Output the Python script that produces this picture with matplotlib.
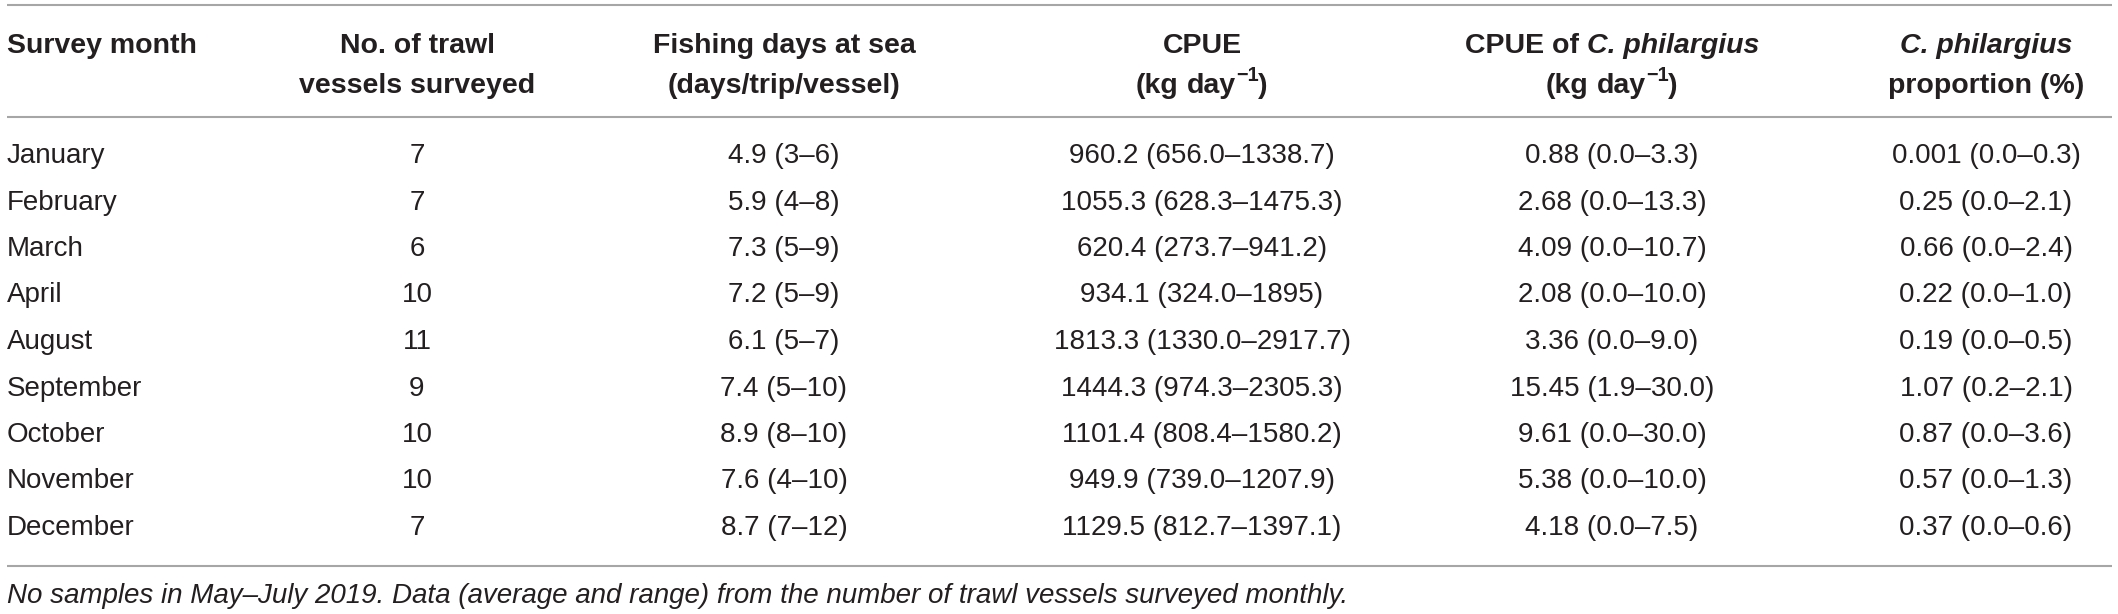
import matplotlib

matplotlib.use('Agg')
from matplotlib import pyplot as plt

# table content
months = ['January', 'February', 'March', 'April', 'August',
          'September', 'October', 'November', 'December']
n_vessels = [7, 7, 6, 10, 11, 9, 10, 10, 7]
days_mean = ['4.9', '5.9', '7.3', '7.2', '6.1', '7.4', '8.9', '7.6', '8.7']
days_lo = ['3', '4', '5', '5', '5', '5', '8', '4', '7']
days_hi = ['6', '8', '9', '9', '7', '10', '10', '10', '12']
cpue_mean = ['960.2', '1055.3', '620.4', '934.1', '1813.3', '1444.3', '1101.4', '949.9', '1129.5']
cpue_lo = ['656.0', '628.3', '273.7', '324.0', '1330.0', '974.3', '808.4', '739.0', '812.7']
cpue_hi = ['1338.7', '1475.3', '941.2', '1895', '2917.7', '2305.3', '1580.2', '1207.9', '1397.1']
cph_mean = ['0.88', '2.68', '4.09', '2.08', '3.36', '15.45', '9.61', '5.38', '4.18']
cph_lo = ['0.0', '0.0', '0.0', '0.0', '0.0', '1.9', '0.0', '0.0', '0.0']
cph_hi = ['3.3', '13.3', '10.7', '10.0', '9.0', '30.0', '30.0', '10.0', '7.5']
prop_mean = ['0.001', '0.25', '0.66', '0.22', '0.19', '1.07', '0.87', '0.57', '0.37']
prop_lo = ['0.0', '0.0', '0.0', '0.0', '0.0', '0.2', '0.0', '0.0', '0.0']
prop_hi = ['0.3', '2.1', '2.4', '1.0', '0.5', '2.1', '3.6', '1.3', '0.6']
footnote = ('No samples in May\u2013July 2019. Data (average and range) from the number '
            'of trawl vessels surveyed monthly.')

TXT = '#231f20'
RULE = '#a6a6a6'
FS = 20
FS_HEAD = 20.5
W, H = 2118, 614

plt.rcParams['font.family'] = ['Liberation Sans', 'DejaVu Sans']

fig = plt.figure(figsize=(W / 100, H / 100), dpi=100)
ax = fig.add_axes([0, 0, 1, 1])
ax.set_xlim(0, W)
ax.set_ylim(H, 0)
ax.axis('off')
renderer = fig.canvas.get_renderer()


def text_width(s, **kw):
    t = ax.text(0, 0, s, **kw)
    w = t.get_window_extent(renderer).width
    t.remove()
    return w


def rich(x, y, parts, ha='center'):
    # parts: list of (text, kwargs, dy); spaces handled as separate ' ' parts
    widths = []
    for s, kw, dy in parts:
        if s == ' ':
            widths.append(text_width('a a', **kw) - text_width('aa', **kw))
        else:
            widths.append(text_width(s, **kw))
    total = sum(widths)
    x0 = x - total / 2 if ha == 'center' else x
    for (s, kw, dy), w in zip(parts, widths):
        if s != ' ':
            ax.text(x0, y - dy, s, ha='left', va='baseline', color=TXT, **kw)
        x0 += w


bold = dict(fontsize=FS_HEAD, fontweight='bold')
bolditalic = dict(fontsize=FS_HEAD, fontweight='bold', fontstyle='italic')
sup = dict(fontsize=FS_HEAD * 0.7, fontweight='bold')

# header
col_x = [7, 417, 784, 1202, 1612, 1986]
h1, h2 = 53, 93
rich(col_x[0], h1, [('Survey month', bold, 0)], ha='left')
rich(col_x[1], h1, [('No. of trawl', bold, 0)])
rich(col_x[1], h2, [('vessels surveyed', bold, 0)])
rich(col_x[2], h1, [('Fishing days at sea', bold, 0)])
rich(col_x[2], h2, [('(days/trip/vessel)', bold, 0)])
kg_parts = [('(kg', bold, 0), (' ', bold, 0), ('day', bold, 0),
            ('\u22121', sup, 12), (')', bold, 0)]
rich(col_x[3], h1, [('CPUE', bold, 0)])
rich(col_x[3], h2, kg_parts)
rich(col_x[4], h1, [('CPUE of', bold, 0), (' ', bold, 0), ('C. philargius', bolditalic, 0)])
rich(col_x[4], h2, kg_parts)
rich(col_x[5], h1, [('C. philargius', bolditalic, 0)])
rich(col_x[5], h2, [('proportion (%)', bold, 0)])

# rules
for yr in (5, 117, 566):
    ax.plot([7, 2112], [yr, yr], color=RULE, lw=1.5, solid_capstyle='butt')

# body
y0, dy = 163, 46.5
for i, m in enumerate(months):
    y = y0 + i * dy
    ax.text(col_x[0], y, m, ha='left', va='baseline', fontsize=FS, color=TXT)
    cells = [
        str(n_vessels[i]),
        '{} ({}\u2013{})'.format(days_mean[i], days_lo[i], days_hi[i]),
        '{} ({}\u2013{})'.format(cpue_mean[i], cpue_lo[i], cpue_hi[i]),
        '{} ({}\u2013{})'.format(cph_mean[i], cph_lo[i], cph_hi[i]),
        '{} ({}\u2013{})'.format(prop_mean[i], prop_lo[i], prop_hi[i]),
    ]
    for cx, s in zip(col_x[1:], cells):
        ax.text(cx, y, s, ha='center', va='baseline', fontsize=FS, color=TXT)

ax.text(7, 603, footnote, ha='left', va='baseline', fontsize=FS,
        fontstyle='italic', color=TXT)

fig.savefig('out.png', dpi=100)
plt.close(fig)
